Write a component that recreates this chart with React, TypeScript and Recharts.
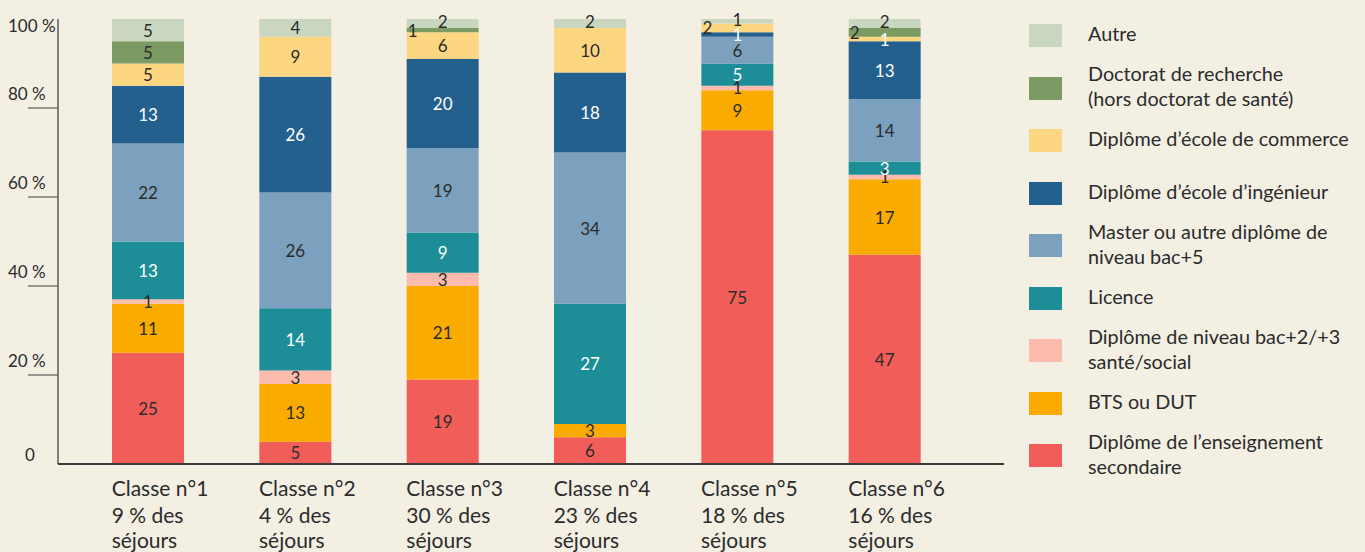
import React from "react";
import { BarChart, Bar, XAxis, YAxis, LabelList } from "recharts";

const classes = ["Classe n°1", "Classe n°2", "Classe n°3", "Classe n°4", "Classe n°5", "Classe n°6"];
const shares = [9, 4, 30, 23, 18, 16];

const secondaire = [25, 5, 19, 6, 75, 47];
const bts = [11, 13, 21, 3, 9, 17];
const sante = [1, 3, 3, 0, 1, 1];
const licence = [13, 14, 9, 27, 5, 3];
const master = [22, 26, 19, 34, 6, 14];
const ingenieur = [13, 26, 20, 18, 1, 13];
const commerce = [5, 9, 6, 10, 2, 1];
const doctorat = [5, 0, 1, 0, 0, 2];
const autre = [5, 4, 2, 2, 1, 2];

const yTicks = [0, 20, 40, 60, 80, 100];

const FONT = "Lato, 'Open Sans', sans-serif";
const BG = "#f3efe3";
const TEXT = "#2b2b2b";

const series = [
  { key: "secondaire", values: secondaire, color: "#f15e59", label: "Diplôme de l’enseignement\nsecondaire", white: false },
  { key: "bts", values: bts, color: "#f9ab00", label: "BTS ou DUT", white: false },
  { key: "sante", values: sante, color: "#fbbcad", label: "Diplôme de niveau bac+2/+3\nsanté/social", white: false },
  { key: "licence", values: licence, color: "#1d8e97", label: "Licence", white: true },
  { key: "master", values: master, color: "#7ba1be", label: "Master ou autre diplôme de\nniveau bac+5", white: false },
  { key: "ingenieur", values: ingenieur, color: "#23608d", label: "Diplôme d’école d’ingénieur", white: true },
  { key: "commerce", values: commerce, color: "#fdd682", label: "Diplôme d’école de commerce", white: false },
  { key: "doctorat", values: doctorat, color: "#7b9b62", label: "Doctorat de recherche\n(hors doctorat de santé)", white: false },
  { key: "autre", values: autre, color: "#cad7c0", label: "Autre", white: false },
];

const data = classes.map((c, i) => {
  const row: Record<string, any> = { name: c, share: shares[i] };
  series.forEach((s) => {
    row[s.key] = s.values[i];
  });
  return row;
});

const makeLabel = (key: string, white: boolean) => (props: any) => {
  const { x, y, width, height, value } = props;
  if (!value) return null;
  const isLeft = (key === "doctorat" && value <= 2) || (key === "commerce" && value === 2);
  const isWhite = white || (key === "commerce" && value === 1);
  let cx = Number(x) + Number(width) / 2;
  let cy = Number(y) + Number(height) / 2;
  if (isLeft) cx = Number(x) + 6;
  if (key === "autre" && value <= 2) cy -= 2;
  return (
    <text
      x={cx}
      y={cy}
      textAnchor="middle"
      dominantBaseline="central"
      fontFamily={FONT}
      fontSize={17}
      fill={isWhite ? "#ffffff" : TEXT}
    >
      {value}
    </text>
  );
};

const YTick = (props: any) => {
  const { x, y, payload } = props;
  const v = payload.value;
  if (v === 0) {
    return (
      <text x={x - 33} y={y - 3} fontFamily={FONT} fontSize={17} fill={TEXT}>
        0
      </text>
    );
  }
  if (v === 100) {
    return (
      <text x={x - 50} y={y + 13} fontFamily={FONT} fontSize={17} fill={TEXT}>
        100 %
      </text>
    );
  }
  return (
    <g>
      <line x1={x - 30} x2={x} y1={y} y2={y} stroke="#5a5a5a" strokeWidth={1.2} />
      <text x={x - 50} y={y - 8} fontFamily={FONT} fontSize={17} fill={TEXT}>
        {v} %
      </text>
    </g>
  );
};

const XTick = (props: any) => {
  const { x, y, payload, index } = props;
  const left = x - 36;
  return (
    <g>
      <text x={left} y={y + 32} fontFamily={FONT} fontSize={21} fill={TEXT}>
        {payload.value}
      </text>
      <text x={left} y={y + 59} fontFamily={FONT} fontSize={21} fill={TEXT}>
        {shares[index]} % des
      </text>
      <text x={left} y={y + 84} fontFamily={FONT} fontSize={21} fill={TEXT}>
        séjours
      </text>
    </g>
  );
};

const legendOrder = [...series].reverse();

export default function App() {
  return (
    <div
      style={{
        position: "fixed",
        left: 0,
        top: 0,
        width: 1365,
        height: 552,
        background: BG,
        overflow: "hidden",
        fontFamily: FONT,
      }}
    >
      <BarChart
        width={1365}
        height={552}
        data={data}
        margin={{ top: 19, right: 361, bottom: 8, left: 8 }}
        barSize={72}
      >
        <YAxis
          type="number"
          domain={[0, 100]}
          ticks={yTicks}
          width={50}
          tickSize={0}
          tickMargin={0}
          tickLine={false}
          axisLine={{ stroke: "#5a5a5a", strokeWidth: 1.5 }}
          tick={<YTick />}
          interval={0}
        />
        <XAxis
          dataKey="name"
          height={80}
          tickSize={0}
          tickMargin={0}
          tickLine={false}
          padding={{ left: 16, right: 46 }}
          axisLine={{ stroke: "#3a3a3a", strokeWidth: 2 }}
          tick={<XTick />}
          interval={0}
        />
        {series.map((s) => (
          <Bar key={s.key} dataKey={s.key} stackId="a" fill={s.color} isAnimationActive={false}>
            <LabelList dataKey={s.key} content={makeLabel(s.key, s.white)} />
          </Bar>
        ))}
      </BarChart>
      {legendOrder.map((s, i) => {
        const cy = 35.5 + i * 52.5;
        const lines = s.label.split("\n");
        return (
          <div
            key={s.key}
            style={{
              position: "absolute",
              left: 1029,
              top: cy - 30,
              height: 60,
              display: "flex",
              alignItems: "center",
            }}
          >
            <div style={{ width: 33, height: 23, background: s.color, flex: "none" }} />
            <div
              style={{
                marginLeft: 26,
                fontSize: 19.8,
                lineHeight: "25px",
                color: TEXT,
                whiteSpace: "nowrap",
                position: "relative",
                top: -2,
              }}
            >
              {lines.map((l, j) => (
                <div key={j}>{l}</div>
              ))}
            </div>
          </div>
        );
      })}
    </div>
  );
}
